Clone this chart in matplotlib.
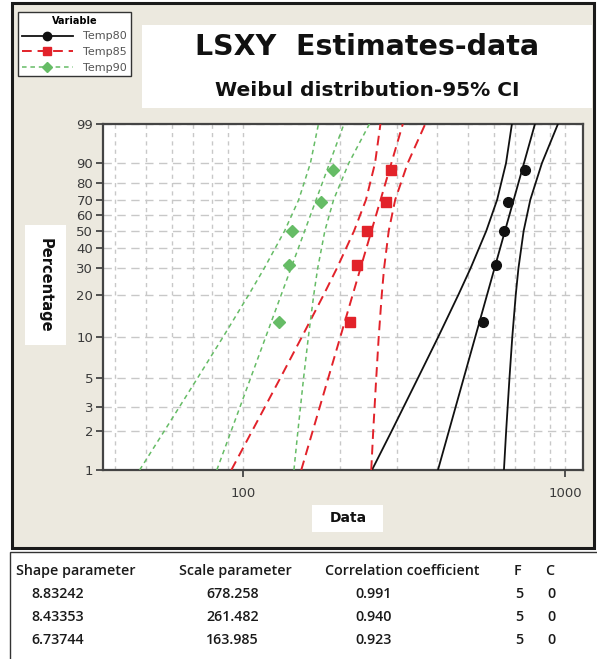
import numpy as np
import matplotlib
matplotlib.use("Agg")
import matplotlib.pyplot as plt
from matplotlib.patches import Rectangle
from matplotlib.lines import Line2D
from matplotlib.ticker import FixedLocator, FixedFormatter, LogLocator, NullFormatter

# plotting positions (median ranks, n = 5) in percent
rank_pct = [12.96, 31.48, 50.0, 68.52, 87.04]

temp80_pts = [556, 611, 647, 665, 751]
temp85_pts = [215, 226, 243, 278, 288]
temp90_pts = [129, 139, 142, 175, 190]

# weibull fits, as listed in the table under the chart
shape = [8.83242, 8.43353, 6.73744]
scale = [678.258, 261.482, 163.985]
corr = ["0.991", "0.940", "0.923"]
n_fail = [5, 5, 5]
n_cens = [0, 0, 0]

# 95% CI bands at these percent levels
ci_pct = [1, 2, 5, 10, 20, 30, 50, 70, 90, 99]
temp80_lo = [251.3, 289.8, 349.3, 403.1, 466.0, 508.4, 569.2, 615.2, 655.6, 683.8]
temp80_hi = [645.9, 656.3, 672.0, 685.5, 702.8, 716.4, 743.6, 780.0, 847.5, 950.5]
temp85_lo = [91.9, 106.8, 130.5, 152.0, 177.8, 195.4, 221.1, 240.8, 256.9, 267.0]
temp85_hi = [250.0, 253.6, 259.1, 263.7, 269.5, 274.0, 283.3, 296.7, 324.5, 367.9]
temp90_lo = [47.7, 57.0, 72.2, 86.5, 104.0, 116.2, 134.5, 148.8, 161.8, 171.4]
temp90_hi = [143.8, 148.0, 154.1, 159.4, 165.7, 170.4, 179.4, 191.0, 212.9, 246.8]

names = ["Temp80", "Temp85", "Temp90"]
y_ticks = [1, 2, 3, 5, 10, 20, 30, 40, 50, 60, 70, 80, 90, 99]

W, H = 597, 659
BG = "#ECE9DF"
SANS = ["Open Sans", "DejaVu Sans"]


def wb_fwd(p):
    p = np.clip(np.asarray(p, dtype=float), 1e-6, 100 - 1e-6)
    return np.log(-np.log(1 - p / 100.0))


def wb_inv(w):
    return 100.0 * (1 - np.exp(-np.exp(w)))


def box(x0, y0, x1, y1, **kw):
    # pixel coords (top-left origin) -> figure fraction
    return Rectangle((x0 / W, 1 - y1 / H), (x1 - x0) / W, (y1 - y0) / H,
                     transform=fig.transFigure, zorder=-5, **kw)


fig = plt.figure(figsize=(W / 100, H / 100), dpi=100)
fig.patch.set_facecolor("white")

# outer chart frame, title box, table box
fig.patches.append(box(12, 3, 594, 548, facecolor=BG, edgecolor="#1a1a1a", linewidth=2.2))
fig.patches.append(box(142, 25, 592, 108, facecolor="white", edgecolor="none"))
fig.patches.append(box(10, 552, 640, 700, facecolor="white", edgecolor="#333333", linewidth=1.0))
fig.patches.append(box(25, 225, 66, 345, facecolor="white", edgecolor="none"))
fig.patches.append(box(312, 505, 383, 532, facecolor="white", edgecolor="none"))

ax = fig.add_axes([103 / W, 1 - 470 / H, (583 - 103) / W, (470 - 124) / H])
ax.set_facecolor("white")
ax.set_xscale("log")
ax.set_yscale("function", functions=(wb_fwd, wb_inv))
ax.set_xlim(36.7, 1137)
ax.set_ylim(1, 99)

styles = [
    dict(color="#111111", ls="-", lw=1.3, marker="o", ms=7),
    dict(color="#E2222A", ls=(0, (5, 3)), lw=1.4, marker="s", ms=7),
    dict(color="#66BC66", ls=(0, (3, 2.5)), lw=1.1, marker="D", ms=6),
]
points = [temp80_pts, temp85_pts, temp90_pts]
bands = [(temp80_lo, temp80_hi), (temp85_lo, temp85_hi), (temp90_lo, temp90_hi)]
fit_pct = np.array([1, 99])

handles = []
for i in range(3):
    st = styles[i]
    fit_x = scale[i] * (-np.log(1 - fit_pct / 100.0)) ** (1 / shape[i])
    ax.plot(fit_x, fit_pct, color=st["color"], ls=st["ls"], lw=st["lw"], zorder=3)
    for b in bands[i]:
        ax.plot(b, ci_pct, color=st["color"], ls=st["ls"], lw=st["lw"], zorder=3)
    ax.plot(points[i], rank_pct, ls="none", marker=st["marker"], ms=st["ms"],
            color=st["color"], zorder=4)
    handles.append(Line2D([], [], color=st["color"], ls=st["ls"], lw=st["lw"],
                          marker=st["marker"], ms=st["ms"] - 1, label=names[i]))

ax.yaxis.set_major_locator(FixedLocator(y_ticks))
ax.yaxis.set_major_formatter(FixedFormatter([str(t) for t in y_ticks]))
ax.yaxis.set_minor_locator(FixedLocator([]))
ax.xaxis.set_major_locator(FixedLocator([100, 1000]))
ax.xaxis.set_major_formatter(FixedFormatter(["100", "1000"]))
ax.xaxis.set_minor_locator(LogLocator(base=10, subs=np.arange(2, 10)))
ax.xaxis.set_minor_formatter(NullFormatter())

ax.grid(True, axis="y", which="major", color="#C8C8C8", ls=(0, (6, 4)), lw=1.0, zorder=0)
ax.grid(True, axis="x", which="both", color="#C8C8C8", ls=(0, (3, 3)), lw=1.0, zorder=0)
ax.set_axisbelow(True)

ax.tick_params(axis="both", which="major", direction="out", length=5, width=1.3,
               colors="#444444", labelsize=9.5, pad=2)
ax.tick_params(axis="x", which="major", pad=7)
ax.tick_params(axis="x", which="minor", length=0)
for lab in ax.get_xticklabels() + ax.get_yticklabels():
    lab.set_color("#3a3a3a")
for sp in ax.spines.values():
    sp.set_color("#444444")
    sp.set_linewidth(1.6)

fig.text(45 / W, 1 - 285 / H, "Percentage", rotation=-90, ha="center", va="center",
         fontsize=10.5, fontweight="bold", color="#111111")
fig.text(348 / W, 1 - 518 / H, "Data", ha="center", va="center",
         fontsize=10, fontweight="bold", color="#111111")

fig.text(367 / W, 1 - 47 / H, "LSXY  Estimates-data", ha="center", va="center",
         fontsize=20.5, fontweight="bold", color="#111111")
fig.text(367 / W, 1 - 90 / H, "Weibul distribution-95% CI", ha="center", va="center",
         fontsize=14.5, fontweight="bold", color="#111111")

leg = fig.legend(handles=handles, loc="upper left", bbox_to_anchor=(18 / W, 1 - 12 / H),
                 title="Variable", fontsize=8, title_fontproperties={"size": 7, "weight": "bold"},
                 frameon=True, fancybox=False, edgecolor="#333333", framealpha=1,
                 handlelength=4.6, handletextpad=0.9, borderpad=0.35, labelspacing=0.5,
                 borderaxespad=0)
leg.get_frame().set_linewidth(1.0)
for t in leg.get_texts():
    t.set_color("#555555")

# parameter table
head_y = 571
row_y = [594, 617, 640]
head = [("Shape parameter", 16), ("Scale parameter", 179), ("Correlation coefficient", 325),
        ("F", 514), ("C", 545)]
for txt, x in head:
    fig.text(x / W, 1 - head_y / H, txt, ha="left", va="center", fontsize=10.3,
             fontweight="semibold", color="#1a1a1a", family=SANS)
for r in range(3):
    cells = [(f"{shape[r]:.5f}", 31), (f"{scale[r]:.3f}", 206), (corr[r], 355),
             (str(n_fail[r]), 515), (str(n_cens[r]), 547)]
    for txt, x in cells:
        fig.text(x / W, 1 - row_y[r] / H, txt, ha="left", va="center", fontsize=10.3,
                 fontweight="semibold", color="#1a1a1a", family=SANS)

fig.savefig("out.png", dpi=100, facecolor=fig.get_facecolor())
